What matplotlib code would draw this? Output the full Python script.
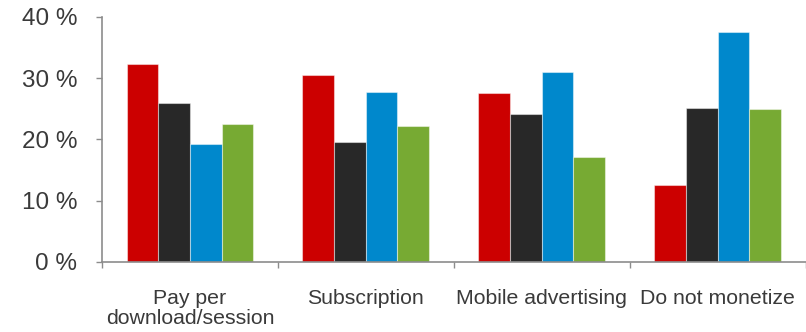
import matplotlib
matplotlib.use("Agg")
import matplotlib.pyplot as plt
import numpy as np

categories = ["Pay per\ndownload/session", "Subscription", "Mobile advertising", "Do not monetize"]
series_red = [32.3, 30.5, 27.5, 12.5]
series_black = [25.9, 19.5, 24.2, 25.1]
series_blue = [19.3, 27.8, 31.0, 37.5]
series_green = [22.5, 22.2, 17.2, 25.0]
ytick_values = [0, 10, 20, 30, 40]
ytick_labels = ["0 %", "10 %", "20 %", "30 %", "40 %"]

colors = ["#CC0000", "#282828", "#0088CC", "#77AA33"]
series = [series_red, series_black, series_blue, series_green]

plt.rcParams['font.family'] = ['Liberation Sans', 'DejaVu Sans']
fig = plt.figure(figsize=(8.06, 3.32), dpi=100)
ax = fig.add_axes([102/806, 1-262/332, (805.5-102)/806, (262-16.7)/332])

x = np.arange(len(categories))
bw = 0.18
for i, (vals, c) in enumerate(zip(series, colors)):
    ax.bar(x + (i - 1.5) * bw, vals, width=bw, color=c,
           edgecolor=(1, 1, 1, 0.45), linewidth=0.8, zorder=2)

ax.set_xlim(-0.5, len(categories) - 0.5)
ax.set_ylim(0, 40)
ax.set_yticks(ytick_values)
ax.set_yticklabels(ytick_labels)
ax.set_xticks(x)
ax.set_xticklabels(categories, linespacing=1.07)
ax.set_xticks(np.arange(len(categories) + 1) - 0.5, minor=True)

for s in ["top", "right"]:
    ax.spines[s].set_visible(False)
for s in ["left", "bottom"]:
    ax.spines[s].set_color("#8C8C8C")
    ax.spines[s].set_linewidth(1.2)

ax.tick_params(axis="y", which="major", length=4, width=1.0, color="#8C8C8C",
               labelsize=17.5, labelcolor="#3A3A3A", pad=14)
ax.tick_params(axis="x", which="major", length=0, labelsize=15.3,
               labelcolor="#3A3A3A", pad=19.5)
ax.tick_params(axis="x", which="minor", length=4, width=1.0, color="#8C8C8C")

fig.savefig("out.png", dpi=100)
